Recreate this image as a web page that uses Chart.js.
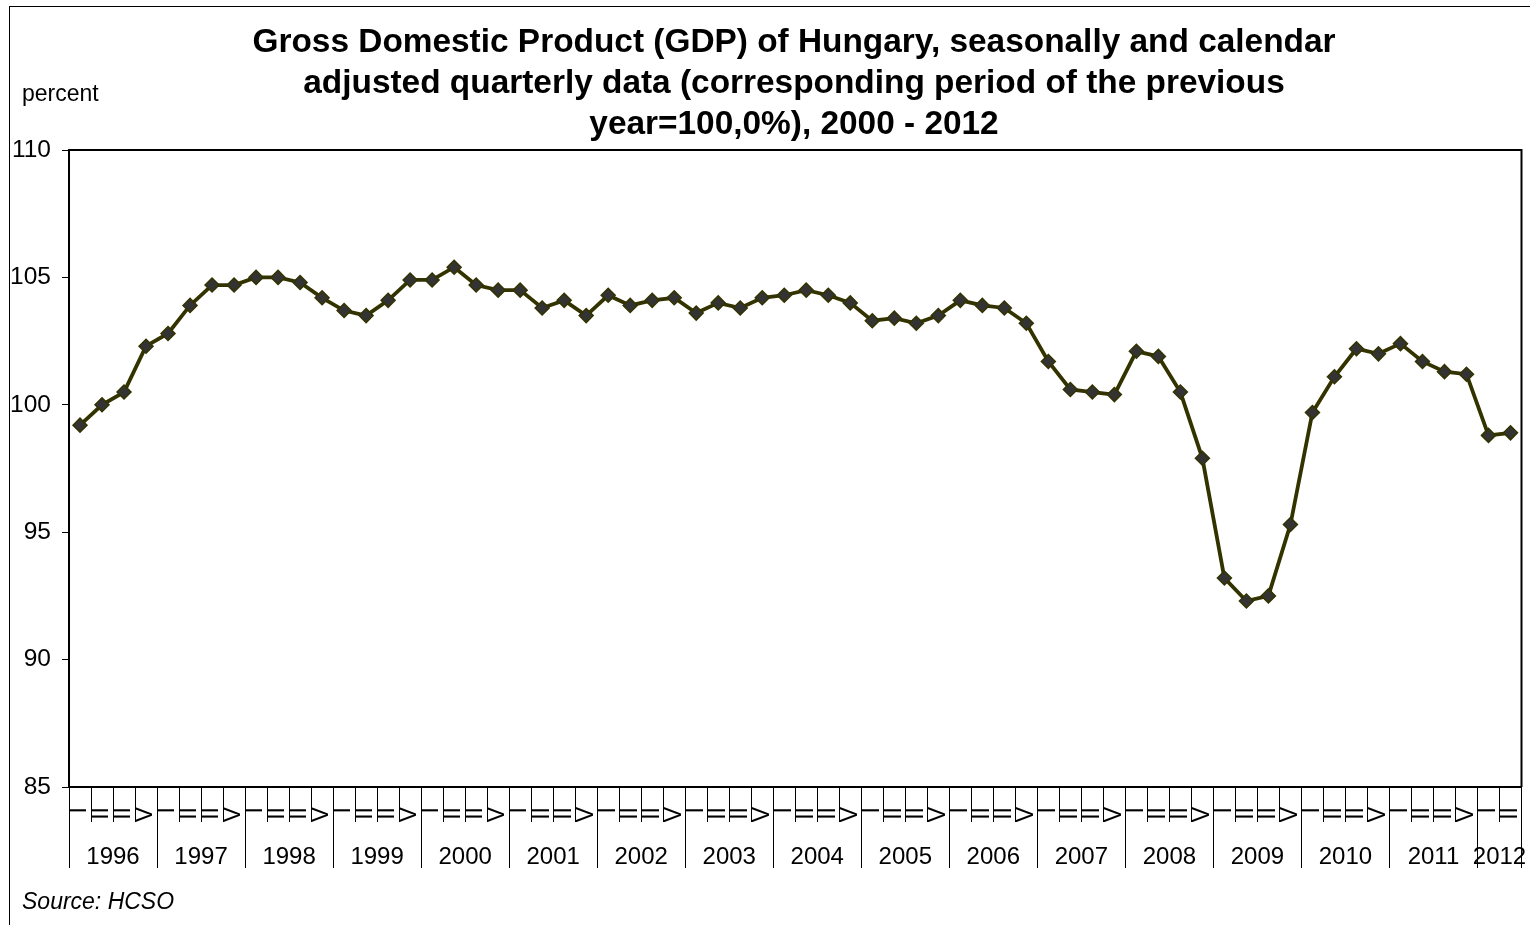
<!DOCTYPE html>
<html>
<head>
<meta charset="utf-8">
<script src="https://cdn.jsdelivr.net/npm/chart.js@4.4.1/dist/chart.umd.min.js"></script>
<style>
  html, body { margin: 0; padding: 0; background: #fff; }
  #wrap { width: 1530px; height: 925px; position: relative; }
</style>
</head>
<body>
<div id="wrap"><canvas id="c" width="1530" height="925"></canvas></div>
<script>
// ---- data ----
const years = ['1996','1997','1998','1999','2000','2001','2002','2003','2004','2005','2006','2007','2008','2009','2010','2011','2012'];
const quarterLabels = ['I','II','III','IV'];
const gdp = [
  99.2, 100.0, 100.5, 102.3,   // 1996
  102.8, 103.9, 104.7, 104.7,  // 1997
  105.0, 105.0, 104.8, 104.2,  // 1998
  103.7, 103.5, 104.1, 104.9,  // 1999
  104.9, 105.4, 104.7, 104.5,  // 2000
  104.5, 103.8, 104.1, 103.5,  // 2001
  104.3, 103.9, 104.1, 104.2,  // 2002
  103.6, 104.0, 103.8, 104.2,  // 2003
  104.3, 104.5, 104.3, 104.0,  // 2004
  103.3, 103.4, 103.2, 103.5,  // 2005
  104.1, 103.9, 103.8, 103.2,  // 2006
  101.7, 100.6, 100.5, 100.4,  // 2007
  102.1, 101.9, 100.5, 97.9,   // 2008
  93.2, 92.3, 92.5, 95.3,      // 2009
  99.7, 101.1, 102.2, 102.0,   // 2010
  102.4, 101.7, 101.3, 101.2,  // 2011
  98.8, 98.9                   // 2012
];
const titleLines = [
  'Gross Domestic Product (GDP) of Hungary, seasonally and calendar',
  'adjusted quarterly data (corresponding period of the previous',
  'year=100,0%), 2000 - 2012'
];
const yUnit = 'percent';
const sourceText = 'Source: HCSO';

const categories = gdp.map((v, i) => years[Math.floor(i / 4)] + ' ' + quarterLabels[i % 4]);

function yearLabelAt(idx) {
  const start = Math.floor(idx / 4) * 4;
  const nq = Math.min(4, gdp.length - start);
  return (idx === start + Math.floor((nq - 1) / 2)) ? years[start / 4] : '';
}

const FONT = "'Liberation Sans', Arial, sans-serif";

const decor = {
  id: 'decor',
  afterDraw(chart) {
    const ctx = chart.ctx;
    const a = chart.chartArea;
    ctx.save();
    // outer frame
    ctx.strokeStyle = '#000';
    ctx.lineWidth = 1;
    ctx.strokeRect(9.5, 6.5, 1560, 960);
    // plot box top & right
    ctx.lineWidth = 2;
    ctx.beginPath();
    ctx.moveTo(a.left, a.top);
    ctx.lineTo(a.right, a.top);
    ctx.lineTo(a.right, a.bottom);
    ctx.stroke();
    // title
    ctx.fillStyle = '#000';
    ctx.textAlign = 'center';
    ctx.textBaseline = 'alphabetic';
    ctx.font = 'bold 33.4px ' + FONT;
    const baselines = [52, 93, 134];
    titleLines.forEach((t, i) => ctx.fillText(t, 794, baselines[i]));
    // unit
    ctx.textAlign = 'left';
    ctx.font = '23px ' + FONT;
    ctx.fillText(yUnit, 22, 101);
    // source
    ctx.font = 'italic 23px ' + FONT;
    ctx.fillText(sourceText, 22, 909);
    ctx.restore();
  }
};

new Chart(document.getElementById('c'), {
  type: 'line',
  data: {
    labels: categories,
    datasets: [{
      data: gdp,
      borderColor: '#333300',
      borderWidth: 3.8,
      pointStyle: 'rectRot',
      pointRadius: 7,
      pointBackgroundColor: '#333333',
      pointBorderColor: '#333300',
      pointBorderWidth: 1.5,
      tension: 0,
      fill: false
    }]
  },
  options: {
    responsive: false,
    animation: false,
    events: [],
    layout: { padding: { left: 9, right: 7, top: 150, bottom: 57 } },
    plugins: {
      legend: { display: false },
      title: { display: false },
      tooltip: { enabled: false }
    },
    scales: {
      y: {
        min: 85, max: 110,
        ticks: { stepSize: 5, color: '#000', font: { family: FONT, size: 24.5 }, padding: 11 },
        grid: { drawOnChartArea: false, drawTicks: true, tickLength: 7, color: '#000', lineWidth: 1 },
        border: { display: true, color: '#000', width: 2 },
        afterFit(s) { s.width = 60; }
      },
      x: {
        type: 'category',
        position: 'bottom',
        weight: 0,
        offset: true,
        ticks: {
          autoSkip: false,
          minRotation: 90, maxRotation: 90,
          color: '#000',
          font: { family: FONT, size: 23 },
          padding: -15,
          callback: (v, idx) => quarterLabels[idx % 4]
        },
        grid: { offset: true, drawOnChartArea: false, drawTicks: true, tickLength: 35, color: '#000', lineWidth: 1 },
        border: { display: true, color: '#000', width: 2 },
        afterFit(s) { s.height = 35; }
      },
      x2: {
        type: 'category',
        position: 'bottom',
        weight: 1,
        offset: true,
        ticks: {
          autoSkip: false,
          maxRotation: 0, minRotation: 0,
          color: '#000',
          font: { family: FONT, size: 24 },
          padding: -25,
          labelOffset: 11,
          callback: (v, idx) => yearLabelAt(idx)
        },
        grid: {
          offset: true, drawOnChartArea: false, drawTicks: true, tickLength: 46, lineWidth: 1,
          color: (c) => (c.index === undefined || c.index % 4 === 0) ? '#000' : 'rgba(0,0,0,0)'
        },
        border: { display: false },
        afterFit(s) { s.height = 46; }
      }
    }
  },
  plugins: [decor]
});
</script>
</body>
</html>
